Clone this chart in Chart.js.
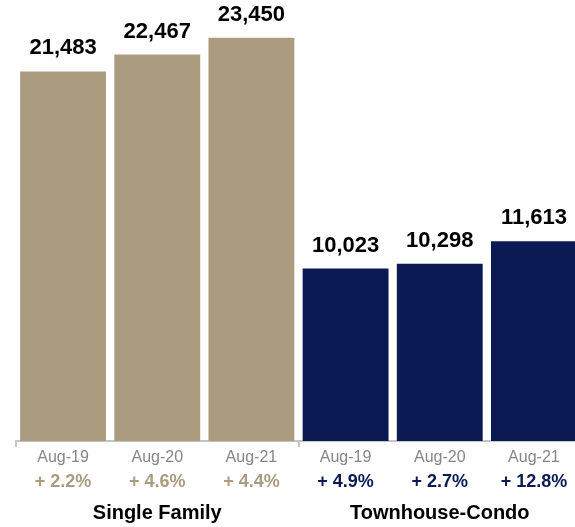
<!DOCTYPE html>
<html>
<head>
<meta charset="utf-8">
<script src="https://cdn.jsdelivr.net/npm/chart.js@4/dist/chart.umd.min.js"></script>
<style>
  html, body { margin: 0; padding: 0; background: #fff; overflow: hidden; }
  #wrap { position: relative; width: 581px; height: 527px; }
</style>
</head>
<body>
<div id="wrap"><canvas id="bars"></canvas></div>
<script>
// dati
const months = ['Aug-19', 'Aug-20', 'Aug-21', 'Aug-19', 'Aug-20', 'Aug-21'];
const sales = [21483, 22467, 23450, 10023, 10298, 11613];
const changes = ['+ 2.2%', '+ 4.6%', '+ 4.4%', '+ 4.9%', '+ 2.7%', '+ 12.8%'];
const groups = ['Single Family', 'Townhouse-Condo'];

const TAN = '#ab9b7f';
const NAVY = '#0b1a52';
const barColors = sales.map((v, i) => i < 3 ? TAN : NAVY);

// etichette sopra le barre, percentuali e nomi dei gruppi
const labelsPlugin = {
  id: 'labelsPlugin',
  afterDraw(chart) {
    const ctx = chart.ctx;
    const meta = chart.getDatasetMeta(0);
    const x = chart.scales.x;
    ctx.save();
    ctx.textAlign = 'center';
    ctx.textBaseline = 'alphabetic';
    meta.data.forEach((bar, i) => {
      ctx.fillStyle = '#000';
      ctx.font = 'bold 22px "Liberation Sans", Arial, sans-serif';
      ctx.fillText(sales[i].toLocaleString('en-US'), bar.x, bar.y - 17);
      ctx.fillStyle = barColors[i];
      ctx.font = 'bold 18px "Liberation Sans", Arial, sans-serif';
      ctx.fillText(changes[i], x.getPixelForValue(i), 487);
    });
    ctx.fillStyle = '#000';
    ctx.font = 'bold 20px "Liberation Sans", Arial, sans-serif';
    ctx.fillText(groups[0], x.getPixelForValue(1), 519);
    ctx.fillText(groups[1], x.getPixelForValue(4), 519);
    ctx.restore();
  }
};

const chart = new Chart(document.getElementById('bars'), {
  type: 'bar',
  data: {
    labels: months,
    datasets: [{
      data: sales,
      backgroundColor: barColors,
      borderWidth: 0,
      categoryPercentage: 1,
      barPercentage: 0.912
    }]
  },
  options: {
    responsive: true,
    maintainAspectRatio: false,
    animation: false,
    layout: { padding: { top: 11, left: 16, right: 0, bottom: 0 } },
    plugins: { legend: { display: false }, tooltip: { enabled: false } },
    scales: {
      y: { display: false, min: 0, max: 25000 },
      x: {
        offset: true,
        border: { color: '#c4c4c4', width: 2 },
        grid: {
          drawOnChartArea: false,
          tickLength: 6,
          lineWidth: 2,
          color: (c) => (c.index % 3 === 0) ? '#c4c4c4' : 'rgba(0,0,0,0)'
        },
        ticks: {
          color: '#868686',
          padding: 1,
          font: { family: '"Liberation Sans", Arial, sans-serif', size: 16 }
        },
        afterFit(scale) { scale.height = 86; }
      }
    }
  },
  plugins: [labelsPlugin]
});
</script>
</body>
</html>
